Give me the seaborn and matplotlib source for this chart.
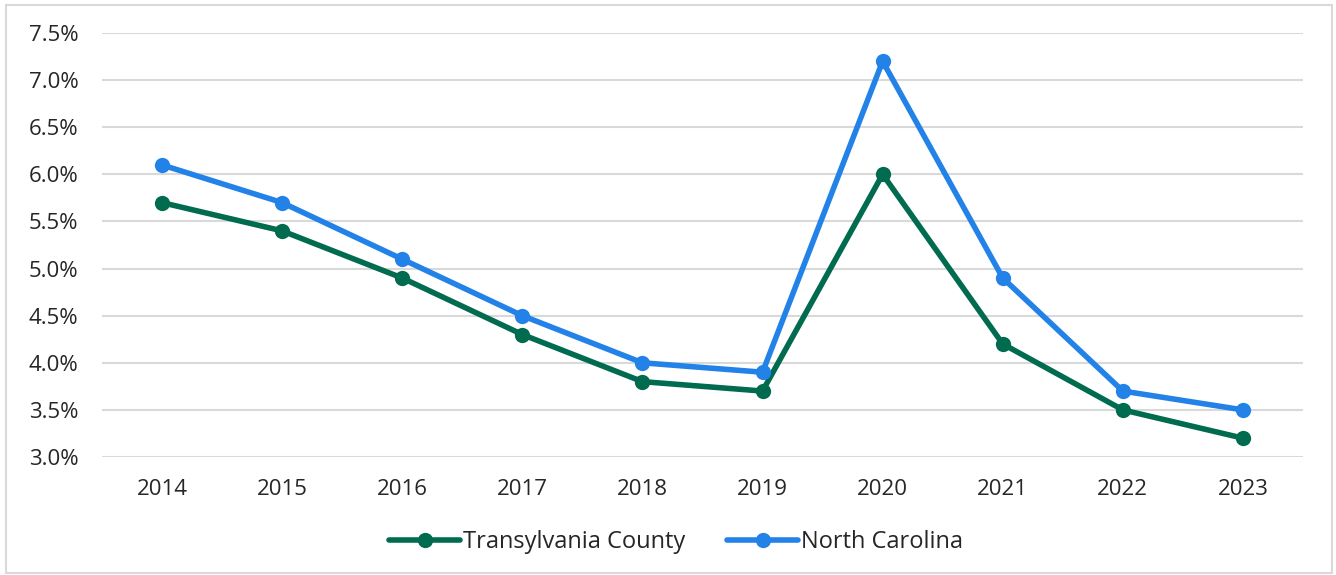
import pandas as pd
import matplotlib.pyplot as plt
import matplotlib.patches as mpatches
import seaborn as sns

years = ['2014', '2015', '2016', '2017', '2018', '2019', '2020', '2021', '2022', '2023']
transylvania = [5.7, 5.4, 4.9, 4.3, 3.8, 3.7, 6.0, 4.2, 3.5, 3.2]
north_carolina = [6.1, 5.7, 5.1, 4.5, 4.0, 3.9, 7.2, 4.9, 3.7, 3.5]
series_names = ['Transylvania County', 'North Carolina']
colors = ['#006B4F', '#2382E8']
y_ticks = [3.0, 3.5, 4.0, 4.5, 5.0, 5.5, 6.0, 6.5, 7.0, 7.5]

df = pd.DataFrame({
    'Year': years * 2,
    'Rate': transylvania + north_carolina,
    'Area': [series_names[0]] * len(years) + [series_names[1]] * len(years),
})

sns.set_style('white')
plt.rcParams['font.family'] = ['Open Sans', 'DejaVu Sans']

fig = plt.figure(figsize=(13.36, 5.75), dpi=100)
ax = fig.add_axes([0.0763, 0.2052, 0.8990, 0.7374])

sns.lineplot(data=df, x='Year', y='Rate', hue='Area', palette=colors,
             marker='o', markersize=11, linewidth=4, markeredgewidth=0,
             sort=False, ax=ax)

ax.set_xlim(-0.5, len(years) - 0.5)
ax.set_ylim(3.0, 7.5)
ax.set_yticks(y_ticks)
ax.set_yticklabels([f'{v:.1f}%' for v in y_ticks])
ax.yaxis.grid(True, color='#d9d9d9', linewidth=1.5)
ax.set_axisbelow(True)
ax.tick_params(axis='both', labelsize=16, colors='#262626', length=0)
ax.tick_params(axis='y', pad=17)
ax.tick_params(axis='x', pad=16)
ax.set_xlabel('')
ax.set_ylabel('')
for s in ax.spines.values():
    s.set_visible(False)

handles, labels = ax.get_legend_handles_labels()
ax.legend(handles, labels, loc='center', bbox_to_anchor=(0.478, -0.20),
          ncol=2, frameon=False, fontsize=17, handlelength=3.0,
          handletextpad=0.1, columnspacing=1.8)

fig.patches.append(mpatches.Rectangle((0.0045, 0.003), 0.9925, 0.988,
                                      transform=fig.transFigure, fill=False,
                                      edgecolor='#d9d9d9', linewidth=1.5))

fig.savefig('out.png', dpi=100)
